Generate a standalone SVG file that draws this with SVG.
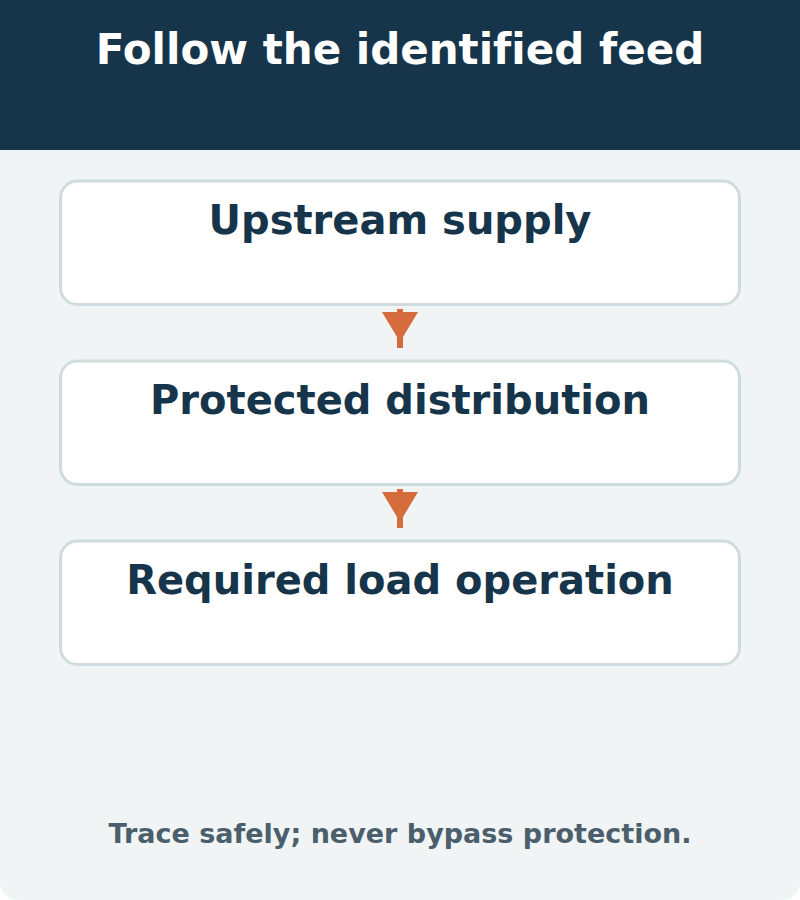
<svg xmlns="http://www.w3.org/2000/svg" width="800" height="900" viewBox="0 0 800 900">
  <style>
    text { font-variant-ligatures: none; font-feature-settings: "liga" 0; }
    .card { fill: #ffffff; stroke: #cfdcdd; stroke-width: 3; }
    .label { font-family: "DejaVu Sans", sans-serif; font-weight: bold; font-size: 40px; fill: #16344a; text-anchor: middle; }
    .title { font-family: "DejaVu Sans", sans-serif; font-weight: bold; font-size: 42px; fill: #ffffff; text-anchor: middle; }
    .foot { font-family: "DejaVu Sans", sans-serif; font-weight: bold; font-size: 27px; fill: #4a5f6b; text-anchor: middle; }
    .stem { stroke: #d66b3d; stroke-width: 6; fill: none; }
    .head { fill: #d66b3d; }
  </style>
  <rect x="0" y="0" width="800" height="900" rx="18" ry="18" fill="#f0f4f5"/>
  <rect x="0" y="0" width="800" height="150" fill="#16344a"/>
  <text class="title" x="400" y="64">Follow the identified feed</text>
  <g id="connectors">
    <line class="stem" x1="400" y1="309" x2="400" y2="348"/>
    <polygon class="head" points="382,312 418,312 400,342"/>
    <line class="stem" x1="400" y1="489" x2="400" y2="528"/>
    <polygon class="head" points="382,492 418,492 400,522"/>
  </g>
  <g id="node-upstream">
    <rect class="card" x="60.5" y="181" width="679" height="123.5" rx="17"/>
    <text class="label" x="400" y="234">Upstream supply</text>
  </g>
  <g id="node-protected">
    <rect class="card" x="60.5" y="361" width="679" height="123.5" rx="17"/>
    <text class="label" x="400" y="414">Protected distribution</text>
  </g>
  <g id="node-required">
    <rect class="card" x="60.5" y="541" width="679" height="123.5" rx="17"/>
    <text class="label" x="400" y="594">Required load operation</text>
  </g>
  <text class="foot" x="400" y="843">Trace safely; never bypass protection.</text>
</svg>
